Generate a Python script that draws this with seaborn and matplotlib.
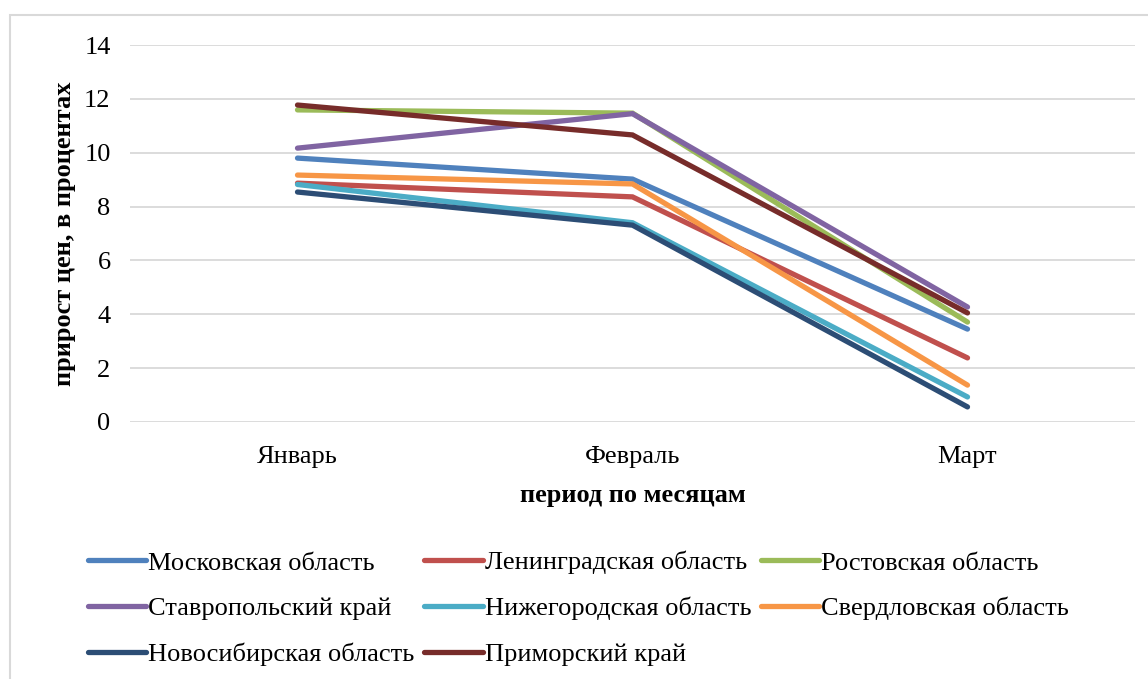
import pandas as pd
import matplotlib.pyplot as plt
import seaborn as sns
from matplotlib.patches import Rectangle

# -----------------------------
# DATA
# -----------------------------
months = ["Январь", "Февраль", "Март"]
regions = [
    "Московская область",
    "Ленинградская область",
    "Ростовская область",
    "Ставропольский край",
    "Нижегородская область",
    "Свердловская область",
    "Новосибирская область",
    "Приморский край",
]
moscow = [9.80, 9.02, 3.45]
leningrad = [8.87, 8.36, 2.38]
rostov = [11.59, 11.47, 3.71]
stavropol = [10.17, 11.45, 4.27]
nizhny = [8.82, 7.40, 0.93]
sverdlovsk = [9.17, 8.84, 1.37]
novosibirsk = [8.54, 7.31, 0.56]
primorsky = [11.77, 10.66, 4.05]

colors = ["#4F81BD", "#C0504D", "#9BBB59", "#8064A2",
          "#4BACC6", "#F79646", "#2C4D75", "#772C2A"]

series = [moscow, leningrad, rostov, stavropol, nizhny, sverdlovsk, novosibirsk, primorsky]
rows = []
for name, vals in zip(regions, series):
    for m, v in zip(months, vals):
        rows.append({"month": m, "region": name, "value": v})
df = pd.DataFrame(rows)

# -----------------------------
# PLOT
# -----------------------------
sns.set_style("white")
plt.rcParams["font.family"] = ["Liberation Serif", "DejaVu Serif"]
plt.rcParams["text.color"] = "black"
plt.rcParams["axes.labelcolor"] = "black"
FS = 19

fig = plt.figure(figsize=(11.48, 6.79), dpi=100)
ax = fig.add_axes([130 / 1148, 1 - 422 / 679, (1135 - 130) / 1148, (422 - 45) / 679])

sns.lineplot(data=df, x="month", y="value", hue="region", hue_order=regions,
             palette=colors, linewidth=3.8, sort=False, ax=ax,
             solid_capstyle="round", solid_joinstyle="miter")

ax.set_xlim(-0.5, 2.5)
ax.set_ylim(0, 14)
ax.set_yticks(range(0, 15, 2))
ax.grid(axis="y", color="#D9D9D9", linewidth=1.3)
ax.set_axisbelow(True)
for s in ax.spines.values():
    s.set_visible(False)
ax.tick_params(axis="both", length=0, labelsize=FS, colors="black")
ax.tick_params(axis="y", pad=14)
ax.tick_params(axis="x", pad=17)

ax.set_xlabel("период по месяцам", fontsize=FS, fontweight="bold", labelpad=12)
ax.set_ylabel("прирост цен, в процентах", fontsize=FS, fontweight="bold", labelpad=6)

# legend: reorder so rows read left-to-right like the original
h, l = ax.get_legend_handles_labels()
order = [0, 3, 6, 1, 4, 7, 2, 5]
leg = ax.legend([h[i] for i in order], [l[i] for i in order],
                ncol=3, loc="upper left", bbox_to_anchor=(88 / 1148, 1 - 551 / 679),
                bbox_transform=fig.transFigure, frameon=False, fontsize=FS,
                handlelength=2.2, handletextpad=0.08, columnspacing=0.38,
                labelspacing=0.85, borderaxespad=0, borderpad=0)
for line in leg.get_lines():
    line.set_linewidth(3.8)

# chart border (Excel style)
fig.patches.append(Rectangle((10 / 1148, -0.1), 2, 1.1 - 15 / 679, transform=fig.transFigure,
                             fill=False, edgecolor="#D9D9D9", linewidth=1.5))

plt.savefig("out.png", dpi=100)
